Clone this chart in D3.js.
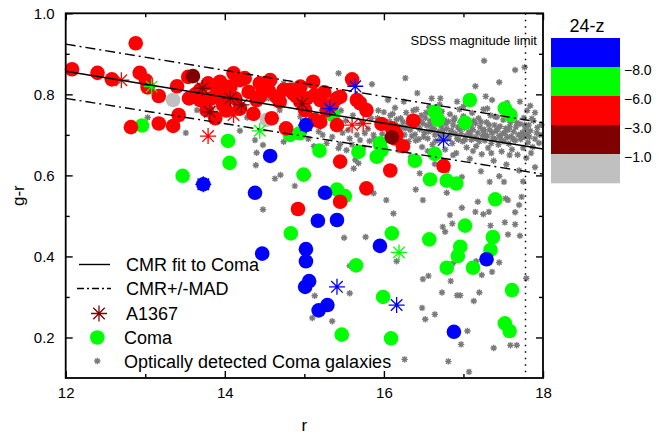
<!DOCTYPE html>
<html>
<head>
<meta charset="utf-8">
<title>Coma CMR: g-r vs r</title>
<script src="https://cdn.jsdelivr.net/npm/d3@7"></script>
<style>
body { margin: 0; background: #fff; }
text { font-family: "Liberation Sans", Arial, sans-serif; fill: #000; }
</style>
</head>
<body>
<div id="chart"></div>
<script>
// ---- data ----
// colour classes of 24-z
const zBreaks = [-8, -6, -3, -1];
const zColors = ["#0000ff", "#00ff00", "#ff0000", "#800000", "#c0c0c0"];
const zTitle = "24-z";
// representative 24-z value for each class
const bandZ = {blue: -9, green: -7, red: -4.5, darkred: -2, gray: 0};

// CMR fit and +/- MAD lines, evaluated at the axis ends
const cmrR = [12, 18];
const cmrFit = [0.857, 0.665];
const cmrUpper = [0.924, 0.730];
const cmrLower = [0.790, 0.603];
const sdssLimit = 17.78;

// Coma galaxies (filled circles), [r, g-r]
const comaRed = [[12.08,0.862],[12.40,0.853],[12.58,0.837],[12.88,0.926],[12.93,0.853],[13.01,0.834],[13.03,0.817],[13.17,0.796],[12.82,0.719],[13.17,0.728],[13.35,0.722],[13.42,0.749],[13.40,0.820],[13.54,0.843],[13.55,0.790],[13.69,0.786],[13.88,0.741],
  [13.69,0.811],[13.79,0.827],[13.90,0.802],[13.94,0.831],[14.07,0.819],[14.19,0.835],[14.30,0.806],[14.40,0.786],[14.48,0.815],[14.57,0.835],[14.65,0.794],[14.82,0.811],[14.95,0.819],[15.03,0.790],[15.11,0.831],[15.20,0.786],[15.28,0.761],[14.36,0.752],[14.59,0.741],[14.77,0.716],[15.13,0.737],[13.77,0.761],
  [14.11,0.852],[14.25,0.840],[14.44,0.827],[14.74,0.811],[14.86,0.802],[15.13,0.798],[15.41,0.790],[15.60,0.837],[15.66,0.786],[15.78,0.761],[15.41,0.724],[15.20,0.732],[13.98,0.774],[14.19,0.765],[14.69,0.782],[14.95,0.782],[14.44,0.794],[15.01,0.761],
  [15.45,0.794],[15.70,0.778],[15.97,0.727],[16.10,0.716],[16.16,0.700],[16.24,0.672],[16.37,0.735],[16.08,0.612],[15.45,0.634],[15.78,0.568],[16.75,0.623],[16.14,0.691],[16.12,0.712],
  [14.92,0.517],[15.45,0.535],
  [13.63,0.800],[13.83,0.790],[14.00,0.800],[14.13,0.790],[14.55,0.810],[14.90,0.795],[15.25,0.805],[15.35,0.775],[14.02,0.760]];
const comaDarkRed = [[13.60,0.845],[16.10,0.694]];
const comaGray = [[13.35,0.786],[13.90,0.769],[14.02,0.794],[14.53,0.737]];
const comaGreen = [[12.96,0.723],[13.47,0.599],[14.04,0.685],[14.06,0.631],[14.82,0.700],[14.94,0.704],[14.99,0.602],[15.19,0.661],[15.36,0.749],[15.68,0.658],[15.91,0.646],[15.95,0.679],[15.41,0.565],[15.51,0.549],[15.97,0.662],[16.64,0.757],[16.68,0.738],[17.02,0.730],[17.08,0.786],[17.52,0.765],[17.59,0.749],[16.64,0.653],[16.39,0.636],[16.58,0.590],[16.79,0.587],[16.91,0.580],[17.40,0.541],[14.83,0.457],[15.65,0.378],[15.47,0.207],[15.99,0.300],[16.10,0.457],[16.57,0.442],[17.02,0.476],[16.96,0.424],[16.93,0.401],[16.79,0.372],[17.12,0.372],[17.37,0.448],[17.34,0.416],[17.61,0.317],[17.52,0.235],[17.58,0.216],[16.09,0.198]];
const comaBlue = [[14.57,0.648],[14.38,0.557],[15.26,0.557],[15.17,0.488],[15.41,0.490],[14.47,0.407],[15.02,0.418],[15.02,0.388],[15.06,0.339],[15.01,0.325],[15.18,0.267],[15.29,0.280],[15.95,0.426],[17.29,0.393],[16.88,0.214],[13.73,0.578],[15.02,0.724]];

// A1367 galaxies (asterisks), [r, g-r]
const a1367Red = [[12.70,0.835],[13.79,0.697],[14.11,0.749],[15.60,0.724],[15.74,0.728]];
const a1367DarkRed = [[13.72,0.815],[13.81,0.757],[14.07,0.790],[14.21,0.774],[14.97,0.777]];
const a1367Green = [[13.08,0.819],[14.44,0.710],[16.19,0.410]];
const a1367Blue = [[13.73,0.578],[15.32,0.765],[15.64,0.820],[16.75,0.687],[15.41,0.325],[16.16,0.280],[15.02,0.724]];

// optically detected Coma galaxies (small grey asterisks), [r, g-r]
const optical = [[13.03,0.743],[13.51,0.705],[13.65,0.761],[14.19,0.710],[14.28,0.743],[14.40,0.656],[14.39,0.625],[14.48,0.675],[14.48,0.516],[14.63,0.592],[14.70,0.601],[14.88,0.574],[15.05,0.601],[14.74,0.683],[14.38,0.687],[15.23,0.700],[15.24,0.811],[14.74,0.827],[14.86,0.823],[14.69,0.761],[15.28,0.679],[15.43,0.667],[15.57,0.691],[15.70,0.687],[15.76,0.704],[15.87,0.700],[15.64,0.638],[15.68,0.630],[15.87,0.556],[15.45,0.677],[15.62,0.617],[15.43,0.852],[15.85,0.825],[15.74,0.786],[14.05,0.800],[14.55,0.790],[14.95,0.745],
  [15.50,0.446],[15.77,0.448],[15.57,0.377],[15.13,0.303],[15.57,0.309],[15.10,0.248],[15.35,0.240],
  [16.03,0.539],[16.12,0.506],[16.49,0.539],[17.18,0.535],[16.98,0.520],[17.15,0.510],[17.25,0.504],[17.32,0.510],[17.56,0.539],[17.65,0.509],[17.70,0.527],[17.73,0.547],[16.83,0.502],[16.86,0.481],[16.74,0.473],[16.77,0.461],[17.34,0.476],[17.52,0.484],[17.65,0.479],[17.56,0.454],[17.71,0.451],[16.16,0.388],[16.87,0.383],[17.16,0.388],[17.45,0.385],[17.23,0.354],[17.36,0.362],[16.56,0.352],[16.49,0.344],[16.84,0.339],[17.79,0.346],[16.73,0.311],[16.92,0.304],[16.96,0.304],[17.20,0.311],[17.13,0.290],[16.48,0.273],[16.64,0.257],[16.52,0.245],[17.05,0.216],[16.97,0.183],[17.38,0.174],[17.59,0.181],[17.67,0.181],[16.26,0.146],[16.81,0.141],[17.07,0.115],
  [16.40,0.565],[16.79,0.557],[17.33,0.584],[17.51,0.584],[17.53,0.543],
  [17.26,0.883],[17.65,0.860],[17.77,0.867],[17.45,0.830],[17.15,0.820],[16.27,0.840],[16.60,0.790],[16.92,0.782],[17.71,0.782],[17.36,0.786],
  [15.32,0.745],[15.38,0.722],[15.46,0.760],[15.52,0.735],[15.55,0.712],[15.61,0.748],[15.66,0.700],[15.72,0.730],[15.80,0.715],[15.84,0.741],[15.88,0.690],
  [15.92,0.741],[15.95,0.719],[15.98,0.702],[16.00,0.756],[16.02,0.688],[16.04,0.731],
  [16.06,0.712],[16.08,0.748],[16.10,0.725],[16.12,0.693],[16.14,0.767],[16.16,0.738],[16.18,0.705],[16.19,0.662],
  [16.21,0.741],[16.23,0.719],[16.25,0.782],[16.26,0.700],[16.28,0.755],[16.30,0.728],[16.31,0.684],[16.33,0.712],[16.34,0.646],
  [16.36,0.745],[16.38,0.722],[16.39,0.701],[16.41,0.763],[16.42,0.733],[16.44,0.689],[16.45,0.714],[16.47,0.748],[16.48,0.670],[16.49,0.728],
  [16.51,0.706],[16.52,0.742],[16.54,0.723],[16.55,0.691],[16.57,0.768],[16.58,0.735],[16.60,0.712],[16.61,0.676],[16.62,0.750],[16.64,0.700],[16.64,0.628],
  [16.66,0.729],[16.67,0.744],[16.69,0.708],[16.70,0.686],[16.72,0.722],[16.73,0.758],[16.75,0.699],[16.76,0.737],[16.77,0.664],[16.79,0.715],[16.79,0.612],
  [16.81,0.733],[16.82,0.696],[16.83,0.751],[16.85,0.711],[16.86,0.679],[16.87,0.724],[16.89,0.742],[16.90,0.703],[16.91,0.655],[16.93,0.719],[16.94,0.688],[16.95,0.763],
  [16.96,0.731],[16.97,0.703],[16.99,0.684],[17.00,0.746],[17.01,0.717],[17.03,0.698],[17.04,0.669],[17.05,0.735],[17.07,0.707],[17.08,0.641],[17.09,0.722],[17.10,0.688],
  [17.11,0.754],[17.12,0.713],[17.14,0.693],[17.15,0.728],[17.16,0.672],[17.18,0.705],[17.19,0.741],[17.20,0.684],[17.21,0.719],[17.23,0.652],[17.24,0.698],[17.25,0.763],
  [17.26,0.713],[17.27,0.686],[17.29,0.731],[17.30,0.697],[17.31,0.668],[17.33,0.712],[17.34,0.748],[17.35,0.679],[17.36,0.705],[17.38,0.636],[17.39,0.724],[17.40,0.689],
  [17.41,0.709],[17.42,0.744],[17.44,0.676],[17.45,0.698],[17.46,0.721],[17.48,0.659],[17.49,0.703],[17.50,0.737],[17.51,0.684],[17.53,0.716],[17.54,0.627],[17.55,0.694],
  [17.56,0.712],[17.57,0.678],[17.59,0.731],[17.60,0.696],[17.61,0.664],[17.63,0.708],[17.64,0.742],[17.65,0.686],[17.66,0.719],[17.68,0.651],[17.69,0.700],[17.70,0.612],
  [17.71,0.727],[17.72,0.689],[17.74,0.706],[17.75,0.668],[17.76,0.742],[17.77,0.695],[17.78,0.717],[17.79,0.643],[17.80,0.760],[17.80,0.702],[17.81,0.681],[17.82,0.724],
  [17.84,0.710],[17.88,0.735],[17.90,0.690],[17.93,0.718],[17.96,0.700],[17.85,0.655],
  [16.05,0.786],[16.42,0.803],[16.71,0.790],[17.05,0.781],[17.28,0.795],[17.55,0.779],[17.84,0.772],
  [16.45,0.605],[16.98,0.596],[17.22,0.610],[17.45,0.598],[17.75,0.585],[17.90,0.620],
  [15.05,0.690],[15.12,0.672],[15.18,0.708],[15.35,0.695],[15.48,0.705],[15.53,0.662],[15.60,0.676],[15.74,0.668],[15.82,0.685],[15.90,0.672],[15.93,0.760],[16.00,0.722],
  [16.07,0.733],[16.11,0.752],[16.17,0.722],[16.20,0.690],[16.24,0.732],[16.27,0.716],[16.32,0.742],[16.35,0.697],[16.37,0.760],[16.40,0.686],[16.43,0.720],[16.46,0.735],
  [16.50,0.695],[16.53,0.755],[16.56,0.708],[16.59,0.724],[16.63,0.715],[16.65,0.685],[16.68,0.760],[16.71,0.698],[16.74,0.712],[16.78,0.728],[16.80,0.690],[16.84,0.704],
  [16.88,0.736],[16.92,0.691],[16.95,0.714],[16.98,0.726],[17.02,0.688],[17.06,0.722],[17.09,0.700],[17.13,0.735],[17.17,0.690],[17.22,0.732],[17.25,0.710],[17.28,0.700],
  [17.32,0.725],[17.37,0.692],[17.40,0.745],[17.43,0.715],[17.47,0.690],[17.52,0.705],[17.58,0.720],[17.62,0.690],[17.67,0.730],[17.73,0.700],[17.77,0.725],[17.83,0.695],
  [17.86,0.740],[17.92,0.705],[17.95,0.680],[17.98,0.725],[17.87,0.670],[17.58,0.650],[17.35,0.655],[17.12,0.660],[16.87,0.650],[16.55,0.660],
  [16.70,0.775],[17.00,0.770],[17.30,0.765],[17.60,0.760],[17.90,0.755]];

const xTicks = [12, 14, 16, 18];
const xMinor = [13, 15, 17];
const yTicks = [0.2, 0.4, 0.6, 0.8, 1.0];
const yMinor = [0.3, 0.5, 0.7, 0.9];

const legendLabels = ["CMR fit to Coma", "CMR+/-MAD", "A1367", "Coma", "Optically detected Coma galaxies"];

// ---- drawing ----
const W = 662, H = 435;
const svg = d3.select("#chart").append("svg")
    .attr("width", W)
    .attr("height", H);

const x = d3.scaleLinear().domain([12, 18]).range([65.7, 543]);
const y = d3.scaleLinear().domain([0.1, 1.0]).range([378, 13.3]);
const color = d3.scaleThreshold().domain(zBreaks).range(zColors);

function starPath(cx, cy, s) {
    const d = s * 0.72;
    return `M${cx - s},${cy}L${cx + s},${cy}M${cx},${cy - s}L${cx},${cy + s}` +
           `M${cx - d},${cy - d}L${cx + d},${cy + d}M${cx - d},${cy + d}L${cx + d},${cy - d}`;
}

const plot = svg.append("g");

// optical galaxies
plot.append("g").selectAll("path")
    .data(optical)
  .join("path")
    .attr("d", d => starPath(x(d[0]), y(d[1]), 3.2))
    .attr("stroke", "#7a7a7a")
    .attr("stroke-width", 1.4)
    .attr("fill", "none");

// coma circles, in draw order
const comaSets = [
    {pts: comaGray, z: bandZ.gray},
    {pts: comaGreen, z: bandZ.green},
    {pts: comaRed, z: bandZ.red},
    {pts: comaDarkRed, z: bandZ.darkred},
    {pts: comaBlue, z: bandZ.blue}
];
comaSets.forEach(set => {
    plot.append("g").selectAll("circle")
        .data(set.pts)
      .join("circle")
        .attr("cx", d => x(d[0]))
        .attr("cy", d => y(d[1]))
        .attr("r", 7.3)
        .attr("fill", color(set.z));
});

// A1367 stars
const a1367Sets = [
    {pts: a1367Red, z: bandZ.red},
    {pts: a1367DarkRed, z: bandZ.darkred},
    {pts: a1367Green, z: bandZ.green},
    {pts: a1367Blue, z: bandZ.blue}
];
a1367Sets.forEach(set => {
    plot.append("g").selectAll("path")
        .data(set.pts)
      .join("path")
        .attr("d", d => starPath(x(d[0]), y(d[1]), 8))
        .attr("stroke", color(set.z))
        .attr("stroke-width", 1.3)
        .attr("fill", "none");
});

// CMR lines
const line = d3.line().x(d => x(d[0])).y(d => y(d[1]));
const mk = vals => cmrR.map((r, i) => [r, vals[i]]);
plot.append("path").attr("d", line(mk(cmrFit)))
    .attr("stroke", "#000").attr("stroke-width", 1.5).attr("fill", "none");
[cmrUpper, cmrLower].forEach(v => {
    plot.append("path").attr("d", line(mk(v)))
        .attr("stroke", "#000").attr("stroke-width", 1.4).attr("fill", "none")
        .attr("stroke-dasharray", "10,4,2,4");
});

// SDSS limit
plot.append("line")
    .attr("x1", x(sdssLimit)).attr("x2", x(sdssLimit))
    .attr("y1", y(1.0)).attr("y2", y(0.1))
    .attr("stroke", "#000").attr("stroke-width", 1.5)
    .attr("stroke-dasharray", "1.5,5");
svg.append("text")
    .attr("x", 537).attr("y", 45)
    .attr("text-anchor", "end")
    .style("font-size", "13px")
    .text("SDSS magnitude limit");

// axes (ticks inside)
function axisG(axis, tr) {
    const g = svg.append("g").attr("transform", tr).call(axis);
    g.select(".domain").remove();
    g.selectAll("line").attr("stroke", "#000").attr("stroke-width", 1.4);
    g.selectAll("text").style("font-size", "15px").style("font-family", "'Liberation Sans', Arial, sans-serif");
    return g;
}
axisG(d3.axisBottom(x).tickValues(xTicks).tickSize(-7).tickPadding(9).tickFormat(d3.format("d")), `translate(0,${y(0.1)})`);
axisG(d3.axisBottom(x).tickValues(xMinor).tickSize(-4).tickFormat(""), `translate(0,${y(0.1)})`);
axisG(d3.axisTop(x).tickValues(xTicks).tickSize(-7).tickFormat(""), `translate(0,${y(1.0)})`);
axisG(d3.axisTop(x).tickValues(xMinor).tickSize(-4).tickFormat(""), `translate(0,${y(1.0)})`);
axisG(d3.axisLeft(y).tickValues(yTicks).tickSize(-7).tickPadding(11).tickFormat(d3.format(".1f")), `translate(${x(12)},0)`);
axisG(d3.axisLeft(y).tickValues(yMinor).tickSize(-4).tickFormat(""), `translate(${x(12)},0)`);
axisG(d3.axisRight(y).tickValues(yTicks).tickSize(-7).tickFormat(""), `translate(${x(18)},0)`);
axisG(d3.axisRight(y).tickValues(yMinor).tickSize(-4).tickFormat(""), `translate(${x(18)},0)`);

svg.append("rect")
    .attr("x", x(12)).attr("y", y(1.0))
    .attr("width", x(18) - x(12)).attr("height", y(0.1) - y(1.0))
    .attr("fill", "none").attr("stroke", "#000").attr("stroke-width", 1.8);

// axis titles
svg.append("text")
    .attr("x", x(15)).attr("y", 431)
    .attr("text-anchor", "middle")
    .style("font-size", "17px")
    .text("r");
svg.append("text")
    .attr("transform", `translate(24,${y(0.55)}) rotate(-90)`)
    .attr("text-anchor", "middle")
    .style("font-size", "17px")
    .text("g-r");

// legend
const lg = svg.append("g").style("font-size", "18px");
const lx = 79, lrows = [264.5, 288.5, 313.5, 337.5, 361];
lg.append("line").attr("x1", lx).attr("x2", lx + 31).attr("y1", lrows[0]).attr("y2", lrows[0])
    .attr("stroke", "#000").attr("stroke-width", 1.4);
lg.append("line").attr("x1", lx - 2).attr("x2", lx + 32).attr("y1", lrows[1]).attr("y2", lrows[1])
    .attr("stroke", "#000").attr("stroke-width", 1.4).attr("stroke-dasharray", "7,3,2,3");
lg.append("path").attr("d", starPath(99, lrows[2], 8))
    .attr("stroke", color(bandZ.darkred)).attr("stroke-width", 1.3).attr("fill", "none");
lg.append("circle").attr("cx", 97.3).attr("cy", lrows[3]).attr("r", 7.3).attr("fill", color(bandZ.green));
lg.append("path").attr("d", starPath(97.3, lrows[4], 3.2))
    .attr("stroke", "#7a7a7a").attr("stroke-width", 1.4).attr("fill", "none");
lg.selectAll("text")
    .data(legendLabels)
  .join("text")
    .attr("x", (d, i) => i < 3 ? 126 : 124)
    .attr("y", (d, i) => lrows[i] + 6.5)
    .text(d => d);

// colour bar
const bar = svg.append("g");
const yBar = d3.scaleBand().domain(d3.range(zColors.length)).range([38, 183]).paddingInner(0);
bar.selectAll("rect")
    .data(zColors)
  .join("rect")
    .attr("x", 551)
    .attr("y", (d, i) => yBar(i))
    .attr("width", 69)
    .attr("height", yBar.bandwidth() + 0.3)
    .attr("fill", d => d);
bar.selectAll("text.lab")
    .data(zBreaks)
  .join("text")
    .attr("class", "lab")
    .attr("x", 624)
    .attr("y", (d, i) => yBar(i + 1) + 7.5)
    .style("font-size", "14px")
    .text(d => d3.format(".1f")(d));
bar.append("text")
    .attr("x", 587).attr("y", 32)
    .attr("text-anchor", "middle")
    .style("font-size", "18px")
    .text(zTitle);
</script>
</body>
</html>
